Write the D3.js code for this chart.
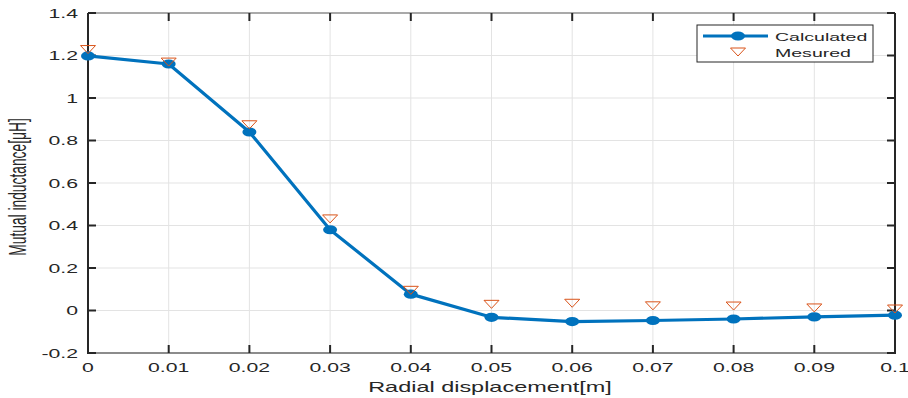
<!DOCTYPE html>
<html>
<head>
<meta charset="utf-8">
<script src="https://d3js.org/d3.v7.min.js"></script>
<style>
  body { margin: 0; background: #fff; }
  svg { display: block; font-family: "Liberation Sans", Arial, sans-serif; }
</style>
</head>
<body>
<svg id="chart" width="908" height="398"></svg>
<script>
const displacement = [0, 0.01, 0.02, 0.03, 0.04, 0.05, 0.06, 0.07, 0.08, 0.09, 0.1];
const calculated = [1.198, 1.160, 0.840, 0.380, 0.077, -0.032, -0.052, -0.047, -0.040, -0.030, -0.022];
const measured = [1.228, 1.169, 0.874, 0.431, 0.095, 0.029, 0.034, 0.022, 0.021, 0.012, 0.007];
const xTicks = [0, 0.01, 0.02, 0.03, 0.04, 0.05, 0.06, 0.07, 0.08, 0.09, 0.1];
const yTicks = [-0.2, 0, 0.2, 0.4, 0.6, 0.8, 1, 1.2, 1.4];

const svg = d3.select("#chart");
const pLeft = 88, pRight = 895, pTop = 13, pBottom = 353;
const stretch = 1.7;
const blue = "#0072BD", orange = "#D95319";

const x = d3.scaleLinear().domain([0, 0.1]).range([pLeft, pRight]);
const y = d3.scaleLinear().domain([-0.2, 1.4]).range([pBottom, pTop]);
const fmt = d => d3.format("~g")(d).replace("\u2212", "-");

// grid
svg.append("g").selectAll("line").data(xTicks.slice(1, -1)).enter().append("line")
    .attr("x1", d => x(d)).attr("x2", d => x(d)).attr("y1", pTop).attr("y2", pBottom)
    .attr("stroke", "#e3e3e3").attr("stroke-width", 1);
svg.append("g").selectAll("line").data(yTicks.slice(1, -1)).enter().append("line")
    .attr("x1", pLeft).attr("x2", pRight).attr("y1", d => y(d)).attr("y2", d => y(d))
    .attr("stroke", "#e3e3e3").attr("stroke-width", 1);

// box
svg.append("line").attr("x1", pLeft).attr("x2", pRight).attr("y1", pBottom).attr("y2", pBottom)
    .attr("stroke", "#8c8c8c").attr("stroke-width", 2);
svg.append("line").attr("x1", pLeft).attr("x2", pRight).attr("y1", pTop).attr("y2", pTop)
    .attr("stroke", "#8c8c8c").attr("stroke-width", 1.5);
svg.append("line").attr("x1", pLeft).attr("x2", pLeft).attr("y1", pTop).attr("y2", pBottom + 1)
    .attr("stroke", "#262626").attr("stroke-width", 2);
svg.append("line").attr("x1", pRight).attr("x2", pRight).attr("y1", pTop).attr("y2", pBottom + 1)
    .attr("stroke", "#262626").attr("stroke-width", 2);

// inward ticks
const tl = 8;
const ticks = svg.append("g").attr("stroke", "#262626").attr("stroke-width", 2);
xTicks.forEach(d => {
  ticks.append("line").attr("x1", x(d)).attr("x2", x(d)).attr("y1", pBottom).attr("y2", pBottom - tl);
  ticks.append("line").attr("x1", x(d)).attr("x2", x(d)).attr("y1", pTop).attr("y2", pTop + tl);
});
yTicks.forEach(d => {
  ticks.append("line").attr("x1", pLeft).attr("x2", pLeft + tl).attr("y1", y(d)).attr("y2", y(d));
  ticks.append("line").attr("x1", pRight).attr("x2", pRight - tl).attr("y1", y(d)).attr("y2", y(d));
});

// horizontally stretched text, like the reference
function label(px, py, txt, anchor, size, rot) {
  const g = svg.append("g")
      .attr("transform", `translate(${px},${py}) scale(${stretch},1)` + (rot ? ` rotate(${rot})` : ""));
  g.append("text").attr("text-anchor", anchor).attr("font-size", size)
      .attr("fill", "#262626").text(txt);
}

xTicks.forEach(d => label(x(d), 372, fmt(d), "middle", 12.5));
yTicks.forEach(d => label(78, y(d) + 4.5, fmt(d), "end", 12.5));
label(490, 392, "Radial displacement[m]", "middle", 13.8);
label(26, 187, "Mutual inductance[\u03bcH]", "middle", 13.8, -90);

// series
const line = d3.line().x((d, i) => x(displacement[i])).y(d => y(d));
svg.append("path").datum(calculated).attr("d", line)
    .attr("fill", "none").attr("stroke", blue).attr("stroke-width", 3.2).attr("stroke-linejoin", "round");
svg.append("g").selectAll("ellipse").data(calculated).enter().append("ellipse")
    .attr("cx", (d, i) => x(displacement[i])).attr("cy", d => y(d))
    .attr("rx", 7).attr("ry", 4.6).attr("fill", blue);

const tri = (cx, cy) => `M${cx - 7.5},${cy - 4}L${cx + 7.5},${cy - 4}L${cx},${cy + 4}Z`;
svg.append("g").selectAll("path").data(measured).enter().append("path")
    .attr("d", (d, i) => tri(x(displacement[i]), y(d)))
    .attr("fill", "none").attr("stroke", orange).attr("stroke-width", 1);

// legend
const lg = svg.append("g");
lg.append("rect").attr("x", 697).attr("y", 25).attr("width", 176).attr("height", 37)
    .attr("fill", "#fff").attr("stroke", "#262626").attr("stroke-width", 1);
lg.append("line").attr("x1", 703).attr("x2", 768).attr("y1", 36).attr("y2", 36)
    .attr("stroke", blue).attr("stroke-width", 3.2);
lg.append("ellipse").attr("cx", 738).attr("cy", 36).attr("rx", 7).attr("ry", 4.6).attr("fill", blue);
lg.append("path").attr("d", tri(738, 52)).attr("fill", "none").attr("stroke", orange);
label(775, 40.5, "Calculated", "start", 11.5);
label(775, 56.5, "Mesured", "start", 11.5);
</script>
</body>
</html>
